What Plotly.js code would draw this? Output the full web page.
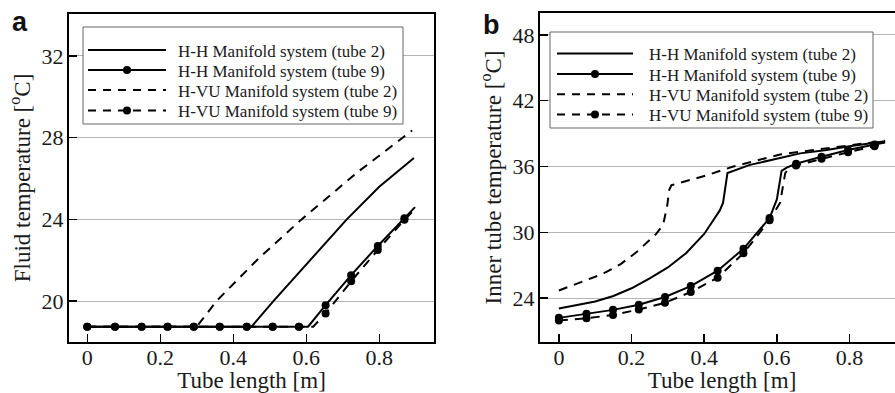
<!DOCTYPE html>
<html>
<head>
<meta charset="utf-8">
<script src="https://cdn.plot.ly/plotly-3.0.1.min.js"></script>
<style>
html,body{margin:0;padding:0;overflow:hidden;background:#fff;}
#chart{width:910px;height:393px;}
</style>
</head>
<body>
<div id="chart"></div>
<script>
// ---------- data ----------
const seriesNames = ['H-H Manifold system (tube 2)', 'H-H Manifold system (tube 9)',
                     'H-VU Manifold system (tube 2)', 'H-VU Manifold system (tube 9)'];
const markerX = [0, 0.076, 0.149, 0.22, 0.292, 0.363, 0.437, 0.508, 0.58, 0.653, 0.723, 0.796, 0.869];
const xTicks = [0, 0.2, 0.4, 0.6, 0.8];
const xTickText = ['0', '0.2', '0.4', '0.6', '0.8'];
const aYTicks = [20, 24, 28, 32];
const bYTicks = [24, 30, 36, 42, 48];

// panel a : fluid temperature
const aHH2x = [0, 0.45, 0.51, 0.6, 0.711, 0.8, 0.895];
const aHH2y = [18.75, 18.75, 20, 21.8, 24, 25.6, 27.0];
const aHVU2x = [0, 0.3, 0.354, 0.47, 0.587, 0.74, 0.89];
const aHVU2y = [18.75, 18.75, 20, 22.1, 24, 26.3, 28.35];
const aHH9x = [0, 0.076, 0.149, 0.22, 0.292, 0.363, 0.437, 0.508, 0.58, 0.605, 0.653, 0.723, 0.796, 0.869, 0.898];
const aHH9y = [18.75, 18.75, 18.75, 18.75, 18.75, 18.75, 18.75, 18.75, 18.75, 18.75, 19.8, 21.27, 22.7, 24.05, 24.6];
const aHVU9x = [0, 0.076, 0.149, 0.22, 0.292, 0.363, 0.437, 0.508, 0.58, 0.619, 0.653, 0.723, 0.796, 0.869, 0.898];
const aHVU9y = [18.75, 18.75, 18.75, 18.75, 18.75, 18.75, 18.75, 18.75, 18.75, 18.75, 19.4, 20.97, 22.5, 23.98, 24.5];

// panel b : inner tube temperature
const bHH2x = [0, 0.05, 0.1, 0.15, 0.2, 0.25, 0.3, 0.35, 0.4, 0.425, 0.443, 0.452, 0.464, 0.526, 0.6, 0.664, 0.737, 0.8, 0.898];
const bHH2y = [23.05, 23.35, 23.7, 24.2, 24.9, 25.8, 26.8, 28.1, 29.85, 31.1, 32.0, 32.7, 35.4, 36.15, 36.75, 37.2, 37.5, 37.85, 38.3];
const bHVU2x = [0, 0.05, 0.1, 0.131, 0.17, 0.214, 0.25, 0.269, 0.287, 0.298, 0.304, 0.31, 0.407, 0.48, 0.55, 0.609, 0.7, 0.8, 0.898];
const bHVU2y = [24.7, 25.3, 25.95, 26.4, 27.1, 28.2, 29.3, 29.9, 30.7, 32.4, 33.9, 34.3, 35.2, 36.0, 36.6, 37.1, 37.5, 37.95, 38.35];
const bHH9x = [0, 0.076, 0.149, 0.22, 0.292, 0.363, 0.437, 0.508, 0.58, 0.6, 0.613, 0.627, 0.653, 0.723, 0.796, 0.869, 0.898];
const bHH9y = [22.2, 22.57, 22.93, 23.39, 24.1, 25.1, 26.5, 28.5, 31.3, 33.0, 35.6, 35.9, 36.25, 36.9, 37.5, 38.0, 38.2];
const bHVU9x = [0, 0.076, 0.149, 0.22, 0.292, 0.363, 0.437, 0.508, 0.58, 0.609, 0.623, 0.63, 0.653, 0.723, 0.796, 0.869, 0.898];
const bHVU9y = [21.95, 22.16, 22.47, 22.96, 23.58, 24.55, 25.87, 28.1, 31.1, 32.7, 35.4, 35.7, 36.1, 36.7, 37.3, 37.85, 38.1];

// ---------- build ----------
const W = 910, H = 393;
const px = x => x / W;
const py = y => 1 - y / H;
const DATA_DASH = '9px,7px';
const LEG_DASH = '8px,7px';
const serif = '"Liberation Serif", "Times New Roman", serif';

function markColors(xs) {
  return xs.map(x => markerX.includes(x) ? '#000' : 'rgba(0,0,0,0)');
}
function lineTrace(xs, ys, dash, xa, ya) {
  return {x: xs, y: ys, xaxis: xa, yaxis: ya, type: 'scatter', mode: 'lines',
          line: {color: '#000', width: 2, dash: dash}, showlegend: false, hoverinfo: 'skip'};
}
function markTrace(xs, ys, dash, xa, ya) {
  return {x: xs, y: ys, xaxis: xa, yaxis: ya, type: 'scatter', mode: 'lines+markers',
          line: {color: '#000', width: 2, dash: dash},
          marker: {size: 8, color: markColors(xs)},
          showlegend: false, hoverinfo: 'skip'};
}

const traces = [
  lineTrace(aHVU2x, aHVU2y, DATA_DASH, 'x', 'y'),
  lineTrace(aHH2x, aHH2y, 'solid', 'x', 'y'),
  markTrace(aHVU9x, aHVU9y, DATA_DASH, 'x', 'y'),
  markTrace(aHH9x, aHH9y, 'solid', 'x', 'y'),
  lineTrace(bHVU2x, bHVU2y, DATA_DASH, 'x2', 'y2'),
  lineTrace(bHH2x, bHH2y, 'solid', 'x2', 'y2'),
  markTrace(bHVU9x, bHVU9y, DATA_DASH, 'x2', 'y2'),
  markTrace(bHH9x, bHH9y, 'solid', 'x2', 'y2')
];

const tickFont = {family: serif, size: 22, color: '#1a1a1a'};
const titleFont = {family: serif, size: 23, color: '#1a1a1a'};

function xAxis(domain, range, anchor) {
  return {domain: domain, range: range, anchor: anchor,
          tickvals: xTicks, ticktext: xTickText, tickfont: tickFont,
          ticks: 'inside', ticklen: 8, tickwidth: 1.5, tickcolor: '#000',
          showline: true, linewidth: 2, linecolor: '#000', mirror: true,
          showgrid: false, zeroline: false, ticklabelstandoff: -5,
          title: {text: 'Tube length [m]', font: titleFont, standoff: 0}};
}
function yAxis(domain, range, anchor, ticks, title) {
  return {domain: domain, range: range, anchor: anchor,
          tickvals: ticks, tickfont: tickFont,
          ticks: 'inside', ticklen: 8, tickwidth: 1.5, tickcolor: '#000',
          showline: true, linewidth: 2, linecolor: '#000', mirror: true,
          showgrid: true, gridcolor: '#b4b4b4', gridwidth: 1, zeroline: false,
          ticklabelstandoff: -1,
          title: {text: title, font: titleFont, standoff: 5}};
}

// custom legends (boxes, samples, labels)
const shapes = [];
const annotations = [];
function addLegend(box, lineX0, lineX1, rows, textX) {
  shapes.push({type: 'rect', xref: 'paper', yref: 'paper', layer: 'above',
               x0: px(box[0]), x1: px(box[1]), y0: py(box[3]), y1: py(box[2]),
               fillcolor: '#fff', line: {color: '#666', width: 1}});
  const dashes = ['solid', 'solid', LEG_DASH, LEG_DASH];
  const hasMark = [false, true, false, true];
  rows.forEach((ry, i) => {
    shapes.push({type: 'line', xref: 'paper', yref: 'paper', layer: 'above',
                 x0: px(lineX0), x1: px(lineX1), y0: py(ry), y1: py(ry),
                 line: {color: '#000', width: 2, dash: dashes[i]}});
    if (hasMark[i]) {
      const cx = (lineX0 + lineX1) / 2;
      shapes.push({type: 'circle', xref: 'paper', yref: 'paper', layer: 'above',
                   x0: px(cx - 4), x1: px(cx + 4), y0: py(ry + 4), y1: py(ry - 4),
                   fillcolor: '#000', line: {color: '#000', width: 0}});
    }
    annotations.push({xref: 'paper', yref: 'paper', x: px(textX), y: py(ry + 1),
                      xanchor: 'left', yanchor: 'middle', showarrow: false,
                      text: seriesNames[i], font: {family: serif, size: 17, color: '#1a1a1a'}});
  });
}
addLegend([83, 403, 27, 124], 88, 166, [50, 70, 90, 110.5], 176);
addLegend([550, 873, 32, 128], 557, 633, [53.5, 74, 94.3, 114.5], 647);

const sans = '"Liberation Sans", Arial, sans-serif';
annotations.push({xref: 'paper', yref: 'paper', x: px(10), y: py(22), xanchor: 'left', yanchor: 'middle',
                  showarrow: false, text: '<b>a</b>', font: {family: sans, size: 27, color: '#111'}});
annotations.push({xref: 'paper', yref: 'paper', x: px(481), y: py(25), xanchor: 'left', yanchor: 'middle',
                  showarrow: false, text: '<b>b</b>', font: {family: sans, size: 27, color: '#111'}});

const layout = {
  width: W, height: H,
  margin: {l: 0, r: 0, t: 0, b: 0},
  paper_bgcolor: '#fff', plot_bgcolor: '#fff',
  showlegend: false,
  xaxis: xAxis([px(69), px(434)], [-0.05, 0.95], 'y'),
  yaxis: yAxis([py(342), py(14)], [18.0, 34.05], 'x', aYTicks, 'Fluid temperature [<sup>o</sup>C]'),
  xaxis2: xAxis([px(540), px(904)], [-0.052, 0.95], 'y2'),
  yaxis2: yAxis([py(342), py(13)], [20, 50], 'x2', bYTicks, 'Inner tube temperature [<sup>o</sup>C]'),
  shapes: shapes,
  annotations: annotations
};

Plotly.newPlot('chart', traces, layout, {staticPlot: true, displayModeBar: false});
</script>
</body>
</html>
